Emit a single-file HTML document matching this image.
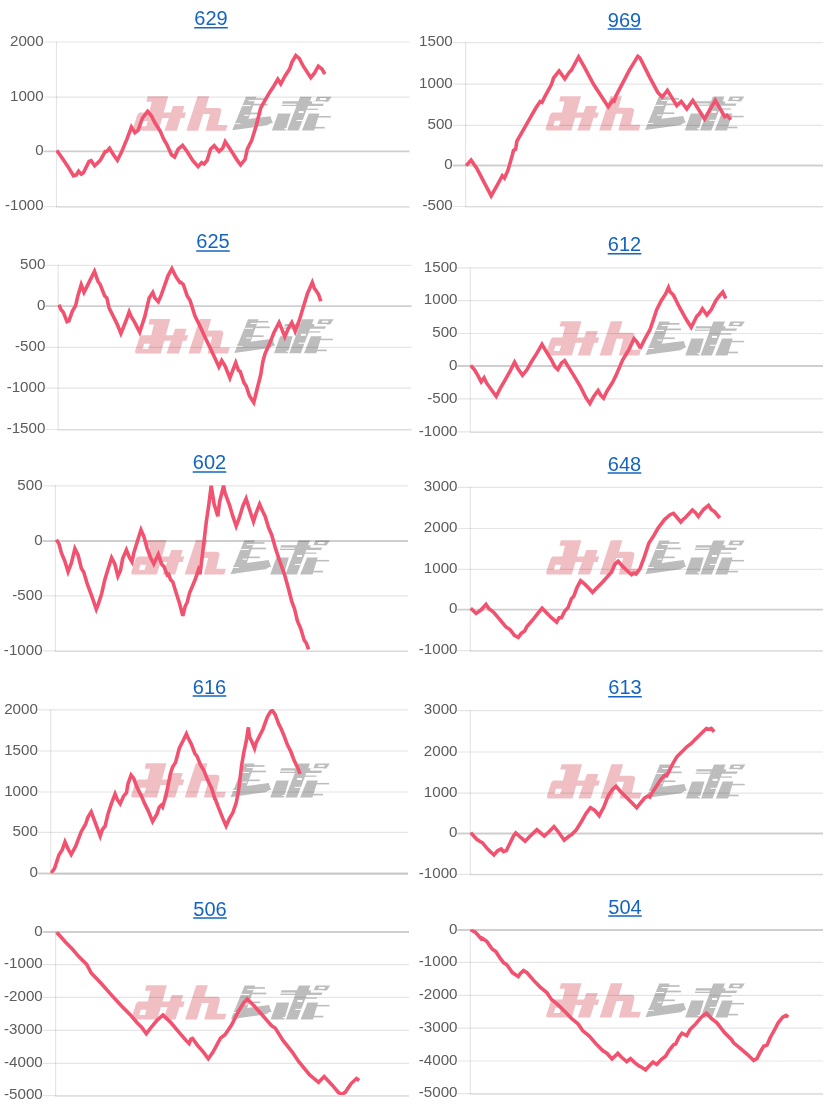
<!DOCTYPE html>
<html><head><meta charset="utf-8"><title>charts</title>
<style>
html,body{margin:0;padding:0;background:#fff;}
svg{display:block;will-change:transform;font-family:"Liberation Sans",sans-serif;}
</style></head><body>
<svg width="830" height="1110" viewBox="0 0 830 1110">
<rect width="830" height="1110" fill="#fff"/>
<defs><g id="wm"><path fill="#f0bfc3" fill-rule="evenodd" d="M15.53 -0.05 L36.06 -0.05 L31.00 18.39 L16.47 18.39 L19.65 5.37 L14.23 5.37Z"/>
<path fill="#f0bfc3" fill-rule="evenodd" d="M7.36 16.22 L53.84 16.22 L52.32 21.64 L4.47 21.64 L5.19 18.39Z"/>
<path fill="#f0bfc3" fill-rule="evenodd" d="M4.83 19.83 L30.64 19.83 L26.52 34.29 L2.08 34.29 L0.85 33.21 L1.00 31.40ZM10.03 24.53 L15.67 24.53 L14.08 29.81 L8.44 29.81Z"/>
<path fill="#f0bfc3" fill-rule="evenodd" d="M40.97 9.71 L52.32 9.71 L44.73 34.29 L32.30 34.29Z"/>
<path fill="#f0bfc3" fill-rule="evenodd" d="M65.47 -0.05 L77.03 -0.05 L73.63 11.52 L86.65 11.52 L88.67 12.46 L89.18 14.41 L85.85 28.51 L95.47 28.51 L93.87 34.29 L73.42 34.29 L77.90 17.66 L71.03 17.66 L65.97 34.29 L54.26 34.29Z"/>
<path fill="#bdbdbd" fill-rule="evenodd" d="M113.86 0.23 L124.34 0.23 L116.39 22.64 L138.29 19.75 L140.39 25.89 L135.18 28.93 L100.12 33.84Z"/>
<path fill="#bdbdbd" fill-rule="evenodd" d="M116.39 1.82 L134.10 1.82 L134.10 3.48 L116.39 3.48Z"/>
<path fill="#bdbdbd" fill-rule="evenodd" d="M119.64 7.31 L135.54 7.31 L135.54 9.05 L119.64 9.05Z"/>
<path fill="#bdbdbd" fill-rule="evenodd" d="M112.77 16.21 L129.40 16.21 L129.40 17.87 L112.77 17.87Z"/>
<path fill="#bdbdbd" fill-rule="evenodd" d="M122.53 26.83 L135.18 26.83 L135.18 28.21 L122.53 28.21Z"/>
<path fill="#bdbdbd" fill-rule="evenodd" d="M103.01 25.24 L140.60 25.24 L140.60 26.40 L103.01 26.40Z"/>
<path fill="#ffffff" fill-rule="evenodd" d="M110.24 8.69 L118.56 8.69 L118.56 9.70 L110.24 9.70Z"/>
<path fill="#ffffff" fill-rule="evenodd" d="M112.05 18.37 L116.75 18.37 L116.75 19.39 L112.05 19.39Z"/>
<path fill="#ffffff" fill-rule="evenodd" d="M102.29 26.83 L108.43 26.83 L108.43 27.70 L102.29 27.70Z"/>
<path fill="#ffffff" fill-rule="evenodd" d="M116.39 3.77 L122.89 3.77 L122.89 4.78 L116.39 4.78Z"/>
<path fill="#bdbdbd" fill-rule="evenodd" d="M168.00 0.23 L179.57 0.23 L166.56 34.21 L154.99 34.21Z"/>
<path fill="#bdbdbd" fill-rule="evenodd" d="M150.65 4.93 L192.58 4.93 L190.77 9.63 L149.57 9.63Z"/>
<path fill="#bdbdbd" fill-rule="evenodd" d="M184.99 0.23 L199.45 0.23 L196.05 5.29 L182.82 5.29ZM188.24 1.68 L194.39 1.68 L193.66 3.48 L187.37 3.48Z"/>
<path fill="#bdbdbd" fill-rule="evenodd" d="M145.95 17.22 L158.46 17.22 L153.54 34.21 L139.81 34.21Z"/>
<path fill="#bdbdbd" fill-rule="evenodd" d="M176.68 17.22 L187.37 17.22 L182.10 34.21 L169.81 34.21Z"/>
<path fill="#bdbdbd" fill-rule="evenodd" d="M174.51 12.23 L186.07 12.23 L186.07 13.46 L174.51 13.46Z"/>
<path fill="#bdbdbd" fill-rule="evenodd" d="M181.01 19.60 L198.72 19.60 L198.72 21.12 L181.01 21.12Z"/>
<path fill="#bdbdbd" fill-rule="evenodd" d="M171.62 30.45 L192.58 30.45 L192.58 32.11 L171.62 32.11Z"/>
<path fill="#bdbdbd" fill-rule="evenodd" d="M142.70 28.42 L153.54 28.42 L153.54 29.51 L142.70 29.51Z"/>
<path fill="#ffffff" fill-rule="evenodd" d="M149.93 7.24 L164.39 7.24 L164.39 8.40 L149.93 8.40Z"/>
<path fill="#ffffff" fill-rule="evenodd" d="M179.93 4.93 L192.58 4.93 L192.58 7.31 L179.93 7.31Z"/>
<path fill="#ffffff" fill-rule="evenodd" d="M166.56 14.69 L171.62 14.69 L171.62 16.64 L166.56 16.64Z"/>
<path fill="#ffffff" fill-rule="evenodd" d="M164.39 23.58 L171.62 23.58 L171.62 24.59 L164.39 24.59Z"/>
<path fill="#ffffff" fill-rule="evenodd" d="M152.10 31.68 L155.71 31.68 L155.71 32.76 L152.10 32.76Z"/></g></defs>
<use href="#wm" x="132.1" y="96.4"/>
<line x1="43.5" y1="42.0" x2="409.5" y2="42.0" stroke="rgba(0,0,0,0.1)" stroke-width="1.2"/>
<text transform="translate(43.7,45.7) scale(0.985,1)" text-anchor="end" font-size="15.4" fill="#5c5c5c">2000</text>
<line x1="43.5" y1="97.1" x2="409.5" y2="97.1" stroke="rgba(0,0,0,0.1)" stroke-width="1.2"/>
<text transform="translate(43.7,100.8) scale(0.985,1)" text-anchor="end" font-size="15.4" fill="#5c5c5c">1000</text>
<line x1="43.5" y1="151.4" x2="409.5" y2="151.4" stroke="rgba(0,0,0,0.19)" stroke-width="1.8"/>
<text transform="translate(43.7,155.1) scale(0.985,1)" text-anchor="end" font-size="15.4" fill="#5c5c5c">0</text>
<line x1="43.5" y1="206.6" x2="409.5" y2="206.6" stroke="rgba(0,0,0,0.1)" stroke-width="1.2"/>
<text transform="translate(43.7,210.3) scale(0.985,1)" text-anchor="end" font-size="15.4" fill="#5c5c5c">-1000</text>
<line x1="56.5" y1="41.5" x2="56.5" y2="207.1" stroke="rgba(0,0,0,0.1)" stroke-width="1.2"/>
<line x1="56.5" y1="207.2" x2="409.5" y2="207.2" stroke="rgba(0,0,0,0.1)" stroke-width="1.0"/>
<clipPath id="c0"><rect x="56.0" y="41.3" width="354.0" height="164.7"/></clipPath>
<polyline clip-path="url(#c0)" fill="none" stroke="#f1526f" stroke-width="3.6" stroke-linejoin="miter" stroke-miterlimit="4.0" points="56.7,150.4 62.3,158.2 67.8,166.4 73.5,175.8 76.3,174.9 78.6,171.3 81.3,174.2 83.4,172.7 89.0,161.5 91.1,160.7 94.7,165.8 96.8,163.7 100.2,160.4 105.2,151.5 106.7,151.5 109.5,148.3 113.5,154.8 117.4,160.2 121.3,152.6 126.9,139.2 131.4,127.1 134.9,132.7 138.0,130.3 142.5,118.0 147.6,111.3 151.4,115.8 154.8,122.5 160.3,131.4 163.7,139.2 167.0,144.8 171.5,154.8 174.6,157.1 178.2,149.2 182.6,145.4 187.1,151.5 192.7,160.4 198.1,166.6 201.7,162.6 204.2,164.0 207.1,160.4 210.5,149.2 214.2,145.6 219.0,151.4 222.7,148.1 225.2,141.6 231.7,151.5 237.3,160.4 240.6,164.8 245.1,159.3 247.3,149.2 251.7,140.3 256.2,125.8 260.7,108.0 265.1,100.2 269.6,92.4 274.0,85.7 277.8,79.2 280.8,84.0 285.2,75.7 289.6,69.0 291.9,62.3 295.8,55.5 299.2,58.3 303.0,65.7 310.8,77.7 314.2,73.5 318.3,66.1 322.0,69.0 324.9,74.1"/>
<text x="211.0" y="25.3" text-anchor="middle" font-size="20" fill="#1565c0">629</text>
<line x1="194.2" y1="27.8" x2="227.8" y2="27.8" stroke="#1565c0" stroke-width="1.5"/>
<use href="#wm" x="544.9" y="96.2"/>
<line x1="452.6" y1="42.7" x2="823.0" y2="42.7" stroke="rgba(0,0,0,0.1)" stroke-width="1.2"/>
<text transform="translate(452.8,46.4) scale(0.985,1)" text-anchor="end" font-size="15.4" fill="#5c5c5c">1500</text>
<line x1="452.6" y1="84.2" x2="823.0" y2="84.2" stroke="rgba(0,0,0,0.1)" stroke-width="1.2"/>
<text transform="translate(452.8,87.9) scale(0.985,1)" text-anchor="end" font-size="15.4" fill="#5c5c5c">1000</text>
<line x1="452.6" y1="125.4" x2="823.0" y2="125.4" stroke="rgba(0,0,0,0.1)" stroke-width="1.2"/>
<text transform="translate(452.8,129.1) scale(0.985,1)" text-anchor="end" font-size="15.4" fill="#5c5c5c">500</text>
<line x1="452.6" y1="165.5" x2="823.0" y2="165.5" stroke="rgba(0,0,0,0.19)" stroke-width="1.8"/>
<text transform="translate(452.8,169.2) scale(0.985,1)" text-anchor="end" font-size="15.4" fill="#5c5c5c">0</text>
<line x1="452.6" y1="206.5" x2="823.0" y2="206.5" stroke="rgba(0,0,0,0.1)" stroke-width="1.2"/>
<text transform="translate(452.8,210.2) scale(0.985,1)" text-anchor="end" font-size="15.4" fill="#5c5c5c">-500</text>
<line x1="465.6" y1="42.2" x2="465.6" y2="207.0" stroke="rgba(0,0,0,0.1)" stroke-width="1.2"/>
<line x1="465.6" y1="207.1" x2="823.0" y2="207.1" stroke="rgba(0,0,0,0.1)" stroke-width="1.0"/>
<clipPath id="c1"><rect x="465.1" y="42.0" width="358.4" height="163.9"/></clipPath>
<polyline clip-path="url(#c1)" fill="none" stroke="#f1526f" stroke-width="3.6" stroke-linejoin="miter" stroke-miterlimit="4.0" points="466.2,165.5 471.1,160.2 476.7,168.2 491.2,195.9 496.8,186.0 502.3,175.7 504.5,178.0 507.9,170.4 512.4,154.8 513.5,150.4 515.7,149.2 516.8,141.4 526.9,123.6 535.8,108.0 540.2,101.5 542.0,102.3 544.7,96.9 551.4,84.6 553.6,77.9 559.1,71.0 564.8,78.9 569.2,72.3 571.4,70.1 578.6,56.9 584.8,67.9 593.7,84.6 608.2,106.7 612.7,100.4 614.1,101.1 616.0,95.8 629.4,70.1 637.8,56.3 640.0,57.9 650.0,77.9 657.8,92.4 662.2,97.0 667.4,90.4 676.8,105.6 681.2,101.5 686.8,108.9 692.8,100.4 704.6,119.0 715.3,100.4 724.7,116.7 727.0,115.3 730.9,119.6"/>
<text x="624.5" y="26.6" text-anchor="middle" font-size="20" fill="#1565c0">969</text>
<line x1="607.7" y1="29.1" x2="641.3" y2="29.1" stroke="#1565c0" stroke-width="1.5"/>
<use href="#wm" x="134.2" y="319.1"/>
<line x1="45.2" y1="265.3" x2="411.6" y2="265.3" stroke="rgba(0,0,0,0.1)" stroke-width="1.2"/>
<text transform="translate(45.4,269.0) scale(0.985,1)" text-anchor="end" font-size="15.4" fill="#5c5c5c">500</text>
<line x1="45.2" y1="306.2" x2="411.6" y2="306.2" stroke="rgba(0,0,0,0.19)" stroke-width="1.8"/>
<text transform="translate(45.4,309.9) scale(0.985,1)" text-anchor="end" font-size="15.4" fill="#5c5c5c">0</text>
<line x1="45.2" y1="347.3" x2="411.6" y2="347.3" stroke="rgba(0,0,0,0.1)" stroke-width="1.2"/>
<text transform="translate(45.4,351.0) scale(0.985,1)" text-anchor="end" font-size="15.4" fill="#5c5c5c">-500</text>
<line x1="45.2" y1="388.1" x2="411.6" y2="388.1" stroke="rgba(0,0,0,0.1)" stroke-width="1.2"/>
<text transform="translate(45.4,391.8) scale(0.985,1)" text-anchor="end" font-size="15.4" fill="#5c5c5c">-1000</text>
<line x1="45.2" y1="429.5" x2="411.6" y2="429.5" stroke="rgba(0,0,0,0.1)" stroke-width="1.2"/>
<text transform="translate(45.4,433.2) scale(0.985,1)" text-anchor="end" font-size="15.4" fill="#5c5c5c">-1500</text>
<line x1="58.2" y1="264.8" x2="58.2" y2="430.0" stroke="rgba(0,0,0,0.1)" stroke-width="1.2"/>
<line x1="58.2" y1="430.1" x2="411.6" y2="430.1" stroke="rgba(0,0,0,0.1)" stroke-width="1.0"/>
<clipPath id="c2"><rect x="57.7" y="264.6" width="354.4" height="164.3"/></clipPath>
<polyline clip-path="url(#c2)" fill="none" stroke="#f1526f" stroke-width="3.6" stroke-linejoin="miter" stroke-miterlimit="4.0" points="58.9,304.6 61.1,309.7 63.4,312.4 67.0,321.7 68.9,320.9 72.3,311.3 75.6,305.7 77.9,295.7 81.2,284.7 84.0,292.2 86.8,286.8 90.1,280.1 94.5,271.4 97.9,281.2 100.2,284.5 104.6,295.7 106.8,297.9 109.1,308.0 116.9,323.6 120.9,333.4 125.8,321.3 129.2,311.9 131.4,316.9 134.7,322.4 139.7,332.3 142.5,323.6 144.7,316.9 149.2,297.9 152.8,292.5 154.8,297.9 158.3,301.8 161.4,294.6 168.1,275.6 171.9,268.7 175.9,276.7 179.9,282.6 180.9,282.4 183.3,284.5 187.1,295.7 190.0,300.2 194.9,315.8 199.3,324.7 206.0,339.2 214.9,358.1 218.9,366.8 221.7,360.5 225.0,365.9 229.9,378.0 235.7,362.7 238.4,370.4 240.2,371.5 243.9,382.6 246.2,386.0 249.5,396.0 253.8,402.5 257.3,388.2 260.7,374.8 262.9,361.4 265.1,353.6 269.6,343.6 274.0,332.5 279.1,322.6 281.8,329.1 284.8,336.7 288.5,328.0 291.8,322.6 295.2,331.2 299.7,319.1 303.0,308.0 307.5,293.5 312.3,282.5 314.2,287.9 318.6,294.6 320.8,301.3"/>
<text x="213.0" y="248.4" text-anchor="middle" font-size="20" fill="#1565c0">625</text>
<line x1="196.2" y1="250.9" x2="229.8" y2="250.9" stroke="#1565c0" stroke-width="1.5"/>
<use href="#wm" x="545.4" y="321.2"/>
<line x1="457.3" y1="267.9" x2="823.0" y2="267.9" stroke="rgba(0,0,0,0.1)" stroke-width="1.2"/>
<text transform="translate(457.5,271.6) scale(0.985,1)" text-anchor="end" font-size="15.4" fill="#5c5c5c">1500</text>
<line x1="457.3" y1="300.7" x2="823.0" y2="300.7" stroke="rgba(0,0,0,0.1)" stroke-width="1.2"/>
<text transform="translate(457.5,304.4) scale(0.985,1)" text-anchor="end" font-size="15.4" fill="#5c5c5c">1000</text>
<line x1="457.3" y1="333.5" x2="823.0" y2="333.5" stroke="rgba(0,0,0,0.1)" stroke-width="1.2"/>
<text transform="translate(457.5,337.2) scale(0.985,1)" text-anchor="end" font-size="15.4" fill="#5c5c5c">500</text>
<line x1="457.3" y1="366.0" x2="823.0" y2="366.0" stroke="rgba(0,0,0,0.19)" stroke-width="1.8"/>
<text transform="translate(457.5,369.7) scale(0.985,1)" text-anchor="end" font-size="15.4" fill="#5c5c5c">0</text>
<line x1="457.3" y1="398.8" x2="823.0" y2="398.8" stroke="rgba(0,0,0,0.1)" stroke-width="1.2"/>
<text transform="translate(457.5,402.5) scale(0.985,1)" text-anchor="end" font-size="15.4" fill="#5c5c5c">-500</text>
<line x1="457.3" y1="431.8" x2="823.0" y2="431.8" stroke="rgba(0,0,0,0.1)" stroke-width="1.2"/>
<text transform="translate(457.5,435.5) scale(0.985,1)" text-anchor="end" font-size="15.4" fill="#5c5c5c">-1000</text>
<line x1="470.3" y1="267.4" x2="470.3" y2="432.3" stroke="rgba(0,0,0,0.1)" stroke-width="1.2"/>
<line x1="470.3" y1="432.4" x2="823.0" y2="432.4" stroke="rgba(0,0,0,0.1)" stroke-width="1.0"/>
<clipPath id="c3"><rect x="469.8" y="267.2" width="353.7" height="164.0"/></clipPath>
<polyline clip-path="url(#c3)" fill="none" stroke="#f1526f" stroke-width="3.6" stroke-linejoin="miter" stroke-miterlimit="4.0" points="470.7,365.3 474.5,369.8 477.8,375.4 481.2,381.9 484.1,377.8 486.7,383.2 492.3,391.0 496.2,396.4 500.1,388.7 504.6,380.9 510.2,370.9 514.6,362.2 518.0,368.7 522.5,375.3 526.9,369.8 531.3,362.0 536.9,353.1 542.0,344.3 545.8,350.8 551.4,359.8 554.7,366.4 557.9,369.6 561.4,363.1 564.6,360.6 568.1,366.4 573.7,375.4 580.4,386.5 585.9,397.7 589.9,403.5 593.7,396.5 598.1,390.5 600.9,395.4 603.6,398.1 607.1,391.0 612.7,382.0 616.0,375.4 622.7,359.8 626.1,354.2 629.4,348.6 634.0,338.8 636.8,341.9 640.1,347.5 640.0,348.6 645.6,337.5 650.0,329.7 653.4,319.6 656.7,309.6 661.2,300.7 665.6,294.0 668.5,287.5 670.1,291.8 673.4,295.1 680.1,308.5 685.7,318.5 691.2,327.3 696.8,316.3 699.1,314.1 702.4,308.7 706.9,315.0 711.3,309.6 715.8,300.7 719.1,296.2 722.8,292.0 725.8,298.5"/>
<text x="624.5" y="251.3" text-anchor="middle" font-size="20" fill="#1565c0">612</text>
<line x1="607.7" y1="253.8" x2="641.3" y2="253.8" stroke="#1565c0" stroke-width="1.5"/>
<use href="#wm" x="130.4" y="540.3"/>
<line x1="42.4" y1="485.8" x2="408.0" y2="485.8" stroke="rgba(0,0,0,0.1)" stroke-width="1.2"/>
<text transform="translate(42.6,489.5) scale(0.985,1)" text-anchor="end" font-size="15.4" fill="#5c5c5c">500</text>
<line x1="42.4" y1="541.0" x2="408.0" y2="541.0" stroke="rgba(0,0,0,0.19)" stroke-width="1.8"/>
<text transform="translate(42.6,544.7) scale(0.985,1)" text-anchor="end" font-size="15.4" fill="#5c5c5c">0</text>
<line x1="42.4" y1="595.8" x2="408.0" y2="595.8" stroke="rgba(0,0,0,0.1)" stroke-width="1.2"/>
<text transform="translate(42.6,599.5) scale(0.985,1)" text-anchor="end" font-size="15.4" fill="#5c5c5c">-500</text>
<line x1="42.4" y1="650.9" x2="408.0" y2="650.9" stroke="rgba(0,0,0,0.1)" stroke-width="1.2"/>
<text transform="translate(42.6,654.6) scale(0.985,1)" text-anchor="end" font-size="15.4" fill="#5c5c5c">-1000</text>
<line x1="55.4" y1="485.3" x2="55.4" y2="651.4" stroke="rgba(0,0,0,0.1)" stroke-width="1.2"/>
<line x1="55.4" y1="651.5" x2="408.0" y2="651.5" stroke="rgba(0,0,0,0.1)" stroke-width="1.0"/>
<clipPath id="c4"><rect x="54.9" y="485.1" width="353.6" height="165.2"/></clipPath>
<polyline clip-path="url(#c4)" fill="none" stroke="#f1526f" stroke-width="3.6" stroke-linejoin="miter" stroke-miterlimit="4.0" points="56.5,539.6 59.1,544.1 61.4,553.0 64.7,560.8 68.1,571.8 71.4,563.0 74.9,548.7 78.1,555.2 81.4,568.6 83.7,572.0 87.0,583.1 91.5,595.4 96.3,609.2 98.2,604.3 101.5,594.2 104.8,579.8 108.2,568.6 111.6,557.7 114.9,564.2 117.9,576.2 120.4,570.8 122.7,558.6 126.4,549.9 129.4,557.5 132.0,561.8 133.8,553.0 137.2,541.9 141.0,529.8 143.8,536.3 147.2,548.6 150.5,557.5 153.8,564.0 158.3,554.3 161.7,564.2 163.9,566.4 167.3,575.1 168.7,574.4 170.6,579.8 172.8,582.0 177.3,596.5 179.5,603.2 182.8,615.9 185.1,606.5 187.3,602.0 189.5,593.1 195.1,579.8 198.4,569.9 200.0,574.2 202.9,550.8 206.3,521.8 208.9,504.0 211.2,485.7 214.1,504.0 217.8,516.2 219.6,501.7 223.6,485.7 225.0,492.8 229.5,505.1 232.8,516.2 236.2,526.1 239.5,517.3 242.8,506.2 246.1,498.6 249.5,509.5 253.5,521.6 256.2,512.9 259.6,504.2 262.9,511.8 265.1,516.2 268.5,527.4 271.8,535.2 275.2,547.4 279.6,560.8 284.1,573.1 288.5,588.7 291.9,602.0 294.5,608.7 297.4,621.0 300.8,628.8 304.1,639.9 306.4,643.3 308.6,649.3"/>
<text x="209.5" y="469.4" text-anchor="middle" font-size="20" fill="#1565c0">602</text>
<line x1="192.7" y1="471.9" x2="226.3" y2="471.9" stroke="#1565c0" stroke-width="1.5"/>
<use href="#wm" x="545.3" y="540.3"/>
<line x1="457.3" y1="487.3" x2="823.0" y2="487.3" stroke="rgba(0,0,0,0.1)" stroke-width="1.2"/>
<text transform="translate(457.5,491.0) scale(0.985,1)" text-anchor="end" font-size="15.4" fill="#5c5c5c">3000</text>
<line x1="457.3" y1="528.5" x2="823.0" y2="528.5" stroke="rgba(0,0,0,0.1)" stroke-width="1.2"/>
<text transform="translate(457.5,532.2) scale(0.985,1)" text-anchor="end" font-size="15.4" fill="#5c5c5c">2000</text>
<line x1="457.3" y1="569.3" x2="823.0" y2="569.3" stroke="rgba(0,0,0,0.1)" stroke-width="1.2"/>
<text transform="translate(457.5,573.0) scale(0.985,1)" text-anchor="end" font-size="15.4" fill="#5c5c5c">1000</text>
<line x1="457.3" y1="609.6" x2="823.0" y2="609.6" stroke="rgba(0,0,0,0.19)" stroke-width="1.8"/>
<text transform="translate(457.5,613.3) scale(0.985,1)" text-anchor="end" font-size="15.4" fill="#5c5c5c">0</text>
<line x1="457.3" y1="650.7" x2="823.0" y2="650.7" stroke="rgba(0,0,0,0.1)" stroke-width="1.2"/>
<text transform="translate(457.5,654.4) scale(0.985,1)" text-anchor="end" font-size="15.4" fill="#5c5c5c">-1000</text>
<line x1="470.3" y1="486.8" x2="470.3" y2="651.2" stroke="rgba(0,0,0,0.1)" stroke-width="1.2"/>
<line x1="470.3" y1="651.3" x2="823.0" y2="651.3" stroke="rgba(0,0,0,0.1)" stroke-width="1.0"/>
<clipPath id="c5"><rect x="469.8" y="486.6" width="353.7" height="163.5"/></clipPath>
<polyline clip-path="url(#c5)" fill="none" stroke="#f1526f" stroke-width="3.6" stroke-linejoin="miter" stroke-miterlimit="4.0" points="470.7,608.3 476.1,613.5 481.2,609.8 486.0,604.4 489.0,608.7 493.4,612.1 500.1,619.9 505.7,626.6 510.2,629.9 514.6,635.5 518.3,637.4 521.3,633.3 524.6,631.0 526.9,626.6 533.6,618.8 538.0,613.2 542.1,608.3 545.8,612.1 551.4,617.7 556.7,622.2 559.2,617.7 561.4,617.7 564.8,611.0 568.1,607.6 571.4,598.7 573.7,596.5 577.0,587.6 580.6,580.8 584.8,584.2 589.3,588.7 592.6,592.3 596.0,588.7 602.7,582.0 611.6,572.0 614.9,564.2 618.2,561.3 622.7,566.4 627.2,570.8 631.6,574.7 633.9,573.0 636.0,574.0 638.3,570.8 640.0,568.6 644.5,556.4 648.9,543.0 653.4,536.3 657.8,528.5 664.5,519.6 670.1,514.7 673.4,513.4 676.8,517.3 680.8,522.0 683.5,519.1 685.7,517.3 692.4,510.0 695.7,512.9 698.4,516.5 703.5,509.5 708.5,505.3 711.3,509.5 714.7,511.8 719.8,518.0"/>
<text x="624.5" y="470.6" text-anchor="middle" font-size="20" fill="#1565c0">648</text>
<line x1="607.7" y1="473.1" x2="641.3" y2="473.1" stroke="#1565c0" stroke-width="1.5"/>
<use href="#wm" x="130.4" y="763.3"/>
<line x1="37.7" y1="709.8" x2="408.0" y2="709.8" stroke="rgba(0,0,0,0.1)" stroke-width="1.2"/>
<text transform="translate(37.9,713.5) scale(0.985,1)" text-anchor="end" font-size="15.4" fill="#5c5c5c">2000</text>
<line x1="37.7" y1="751.0" x2="408.0" y2="751.0" stroke="rgba(0,0,0,0.1)" stroke-width="1.2"/>
<text transform="translate(37.9,754.7) scale(0.985,1)" text-anchor="end" font-size="15.4" fill="#5c5c5c">1500</text>
<line x1="37.7" y1="792.0" x2="408.0" y2="792.0" stroke="rgba(0,0,0,0.1)" stroke-width="1.2"/>
<text transform="translate(37.9,795.7) scale(0.985,1)" text-anchor="end" font-size="15.4" fill="#5c5c5c">1000</text>
<line x1="37.7" y1="832.4" x2="408.0" y2="832.4" stroke="rgba(0,0,0,0.1)" stroke-width="1.2"/>
<text transform="translate(37.9,836.1) scale(0.985,1)" text-anchor="end" font-size="15.4" fill="#5c5c5c">500</text>
<line x1="37.7" y1="873.5" x2="408.0" y2="873.5" stroke="rgba(0,0,0,0.19)" stroke-width="1.8"/>
<text transform="translate(37.9,877.2) scale(0.985,1)" text-anchor="end" font-size="15.4" fill="#5c5c5c">0</text>
<line x1="50.7" y1="709.3" x2="50.7" y2="874.0" stroke="rgba(0,0,0,0.1)" stroke-width="1.2"/>
<line x1="50.7" y1="874.1" x2="408.0" y2="874.1" stroke="rgba(0,0,0,0.1)" stroke-width="1.0"/>
<clipPath id="c6"><rect x="50.2" y="709.1" width="358.3" height="163.8"/></clipPath>
<polyline clip-path="url(#c6)" fill="none" stroke="#f1526f" stroke-width="3.6" stroke-linejoin="miter" stroke-miterlimit="4.0" points="51.1,873.0 54.5,868.5 58.9,855.1 62.3,849.6 65.0,841.9 67.9,848.5 71.2,854.5 75.7,846.2 81.2,831.7 85.7,823.9 87.9,817.2 91.2,811.9 95.7,823.9 100.2,836.0 102.4,829.5 105.1,826.2 108.0,813.9 111.3,803.9 115.1,794.0 117.3,799.4 120.2,803.7 123.6,796.1 126.5,792.7 128.0,783.8 131.1,775.1 133.6,778.2 137.0,787.2 141.4,796.1 144.8,803.9 148.1,810.6 152.6,821.5 157.0,813.9 159.2,807.2 161.3,805.2 162.6,807.0 165.9,796.1 170.4,773.8 172.6,767.1 175.5,762.6 179.3,748.2 182.7,741.5 186.4,733.8 188.2,738.1 191.6,744.8 194.9,753.7 197.1,756.4 200.5,764.9 203.8,770.4 208.3,781.6 211.6,788.3 215.0,799.4 215.0,798.3 218.3,807.2 222.8,818.4 226.1,826.0 229.5,818.4 232.8,812.8 236.2,802.8 238.4,791.6 241.7,764.9 244.0,751.5 246.2,741.5 248.4,727.4 249.5,737.0 251.8,741.5 254.6,748.4 256.2,742.6 259.6,735.9 262.9,729.2 267.4,716.9 270.7,711.4 272.4,710.6 275.2,714.7 278.5,723.6 280.8,728.1 284.1,735.9 287.4,744.8 290.8,751.5 294.1,760.4 297.9,768.2 300.1,773.8"/>
<text x="209.5" y="693.6" text-anchor="middle" font-size="20" fill="#1565c0">616</text>
<line x1="192.7" y1="696.1" x2="226.3" y2="696.1" stroke="#1565c0" stroke-width="1.5"/>
<use href="#wm" x="546.0" y="764.2"/>
<line x1="457.3" y1="710.7" x2="823.0" y2="710.7" stroke="rgba(0,0,0,0.1)" stroke-width="1.2"/>
<text transform="translate(457.5,714.4) scale(0.985,1)" text-anchor="end" font-size="15.4" fill="#5c5c5c">3000</text>
<line x1="457.3" y1="752.0" x2="823.0" y2="752.0" stroke="rgba(0,0,0,0.1)" stroke-width="1.2"/>
<text transform="translate(457.5,755.7) scale(0.985,1)" text-anchor="end" font-size="15.4" fill="#5c5c5c">2000</text>
<line x1="457.3" y1="793.2" x2="823.0" y2="793.2" stroke="rgba(0,0,0,0.1)" stroke-width="1.2"/>
<text transform="translate(457.5,796.9) scale(0.985,1)" text-anchor="end" font-size="15.4" fill="#5c5c5c">1000</text>
<line x1="457.3" y1="833.5" x2="823.0" y2="833.5" stroke="rgba(0,0,0,0.19)" stroke-width="1.8"/>
<text transform="translate(457.5,837.2) scale(0.985,1)" text-anchor="end" font-size="15.4" fill="#5c5c5c">0</text>
<line x1="457.3" y1="874.3" x2="823.0" y2="874.3" stroke="rgba(0,0,0,0.1)" stroke-width="1.2"/>
<text transform="translate(457.5,878.0) scale(0.985,1)" text-anchor="end" font-size="15.4" fill="#5c5c5c">-1000</text>
<line x1="470.3" y1="710.2" x2="470.3" y2="874.8" stroke="rgba(0,0,0,0.1)" stroke-width="1.2"/>
<line x1="470.3" y1="874.9" x2="823.0" y2="874.9" stroke="rgba(0,0,0,0.1)" stroke-width="1.0"/>
<clipPath id="c7"><rect x="469.8" y="710.0" width="353.7" height="163.7"/></clipPath>
<polyline clip-path="url(#c7)" fill="none" stroke="#f1526f" stroke-width="3.6" stroke-linejoin="miter" stroke-miterlimit="4.0" points="470.7,832.6 476.7,839.3 480.1,841.5 482.3,842.7 487.9,849.3 493.9,855.0 497.9,850.5 501.2,849.0 503.5,851.6 506.4,850.5 510.2,842.7 513.5,836.0 515.8,832.9 519.1,836.0 525.1,841.2 530.2,836.0 536.9,829.6 544.3,836.1 549.2,831.5 554.0,826.6 558.1,831.5 564.2,840.2 569.2,836.0 571.4,834.8 575.9,830.4 581.5,821.5 585.9,813.7 590.4,807.7 594.8,810.3 599.2,815.7 603.8,807.0 608.2,795.8 612.7,789.2 616.0,786.3 620.5,791.4 626.1,797.0 631.6,802.5 636.7,807.8 640.0,803.6 644.5,798.1 647.8,796.0 649.8,797.0 652.3,792.5 656.7,785.8 661.2,779.1 664.6,775.2 666.5,775.8 669.0,771.3 672.3,764.6 676.8,756.8 681.2,752.4 686.8,746.8 691.3,743.5 694.6,740.1 700.2,734.5 706.4,728.5 709.1,729.4 711.3,728.5 714.2,731.7"/>
<text x="625.0" y="694.3" text-anchor="middle" font-size="20" fill="#1565c0">613</text>
<line x1="608.2" y1="696.8" x2="641.8" y2="696.8" stroke="#1565c0" stroke-width="1.5"/>
<use href="#wm" x="130.8" y="985.3"/>
<line x1="42.6" y1="932.0" x2="409.0" y2="932.0" stroke="rgba(0,0,0,0.19)" stroke-width="1.8"/>
<text transform="translate(42.8,935.7) scale(0.985,1)" text-anchor="end" font-size="15.4" fill="#5c5c5c">0</text>
<line x1="42.6" y1="964.6" x2="409.0" y2="964.6" stroke="rgba(0,0,0,0.1)" stroke-width="1.2"/>
<text transform="translate(42.8,968.3) scale(0.985,1)" text-anchor="end" font-size="15.4" fill="#5c5c5c">-1000</text>
<line x1="42.6" y1="997.4" x2="409.0" y2="997.4" stroke="rgba(0,0,0,0.1)" stroke-width="1.2"/>
<text transform="translate(42.8,1001.1) scale(0.985,1)" text-anchor="end" font-size="15.4" fill="#5c5c5c">-2000</text>
<line x1="42.6" y1="1030.3" x2="409.0" y2="1030.3" stroke="rgba(0,0,0,0.1)" stroke-width="1.2"/>
<text transform="translate(42.8,1034.0) scale(0.985,1)" text-anchor="end" font-size="15.4" fill="#5c5c5c">-3000</text>
<line x1="42.6" y1="1063.3" x2="409.0" y2="1063.3" stroke="rgba(0,0,0,0.1)" stroke-width="1.2"/>
<text transform="translate(42.8,1067.0) scale(0.985,1)" text-anchor="end" font-size="15.4" fill="#5c5c5c">-4000</text>
<line x1="42.6" y1="1095.7" x2="409.0" y2="1095.7" stroke="rgba(0,0,0,0.1)" stroke-width="1.2"/>
<text transform="translate(42.8,1099.4) scale(0.985,1)" text-anchor="end" font-size="15.4" fill="#5c5c5c">-5000</text>
<line x1="55.6" y1="931.5" x2="55.6" y2="1096.2" stroke="rgba(0,0,0,0.1)" stroke-width="1.2"/>
<line x1="55.6" y1="1096.3" x2="409.0" y2="1096.3" stroke="rgba(0,0,0,0.1)" stroke-width="1.0"/>
<clipPath id="c8"><rect x="55.1" y="931.3" width="354.4" height="163.8"/></clipPath>
<polyline clip-path="url(#c8)" fill="none" stroke="#f1526f" stroke-width="3.6" stroke-linejoin="miter" stroke-miterlimit="4.0" points="56.7,932.3 65.6,942.3 72.3,949.0 79.0,956.8 86.8,964.6 91.2,973.0 101.3,983.5 110.2,993.6 121.3,1005.8 130.2,1014.7 136.9,1022.5 141.4,1027.0 146.3,1033.7 151.4,1027.0 157.0,1020.3 163.0,1015.0 170.4,1022.1 179.3,1032.6 186.0,1040.4 189.1,1043.5 190.9,1039.2 192.6,1038.4 197.1,1044.8 203.8,1052.6 208.3,1058.7 212.7,1052.6 220.5,1038.1 225.0,1034.8 231.7,1024.8 238.4,1011.4 243.9,1002.5 247.3,999.0 254.0,1005.8 262.9,1015.8 271.8,1025.9 275.2,1028.1 283.0,1040.4 291.9,1051.5 298.6,1061.5 309.7,1074.9 318.6,1082.3 324.2,1076.6 332.0,1084.9 338.7,1092.7 342.0,1094.3 345.4,1092.1 350.9,1083.8 356.5,1078.5 359.2,1080.5"/>
<text x="210.0" y="915.6" text-anchor="middle" font-size="20" fill="#1565c0">506</text>
<line x1="193.2" y1="918.1" x2="226.8" y2="918.1" stroke="#1565c0" stroke-width="1.5"/>
<use href="#wm" x="545.4" y="983.3"/>
<line x1="457.3" y1="930.0" x2="823.0" y2="930.0" stroke="rgba(0,0,0,0.19)" stroke-width="1.8"/>
<text transform="translate(457.5,933.7) scale(0.985,1)" text-anchor="end" font-size="15.4" fill="#5c5c5c">0</text>
<line x1="457.3" y1="962.3" x2="823.0" y2="962.3" stroke="rgba(0,0,0,0.1)" stroke-width="1.2"/>
<text transform="translate(457.5,966.0) scale(0.985,1)" text-anchor="end" font-size="15.4" fill="#5c5c5c">-1000</text>
<line x1="457.3" y1="995.3" x2="823.0" y2="995.3" stroke="rgba(0,0,0,0.1)" stroke-width="1.2"/>
<text transform="translate(457.5,999.0) scale(0.985,1)" text-anchor="end" font-size="15.4" fill="#5c5c5c">-2000</text>
<line x1="457.3" y1="1028.1" x2="823.0" y2="1028.1" stroke="rgba(0,0,0,0.1)" stroke-width="1.2"/>
<text transform="translate(457.5,1031.8) scale(0.985,1)" text-anchor="end" font-size="15.4" fill="#5c5c5c">-3000</text>
<line x1="457.3" y1="1061.0" x2="823.0" y2="1061.0" stroke="rgba(0,0,0,0.1)" stroke-width="1.2"/>
<text transform="translate(457.5,1064.7) scale(0.985,1)" text-anchor="end" font-size="15.4" fill="#5c5c5c">-4000</text>
<line x1="457.3" y1="1093.7" x2="823.0" y2="1093.7" stroke="rgba(0,0,0,0.1)" stroke-width="1.2"/>
<text transform="translate(457.5,1097.4) scale(0.985,1)" text-anchor="end" font-size="15.4" fill="#5c5c5c">-5000</text>
<line x1="470.3" y1="929.5" x2="470.3" y2="1094.2" stroke="rgba(0,0,0,0.1)" stroke-width="1.2"/>
<line x1="470.3" y1="1094.3" x2="823.0" y2="1094.3" stroke="rgba(0,0,0,0.1)" stroke-width="1.0"/>
<clipPath id="c9"><rect x="469.8" y="929.3" width="353.7" height="163.8"/></clipPath>
<polyline clip-path="url(#c9)" fill="none" stroke="#f1526f" stroke-width="3.6" stroke-linejoin="miter" stroke-miterlimit="4.0" points="470.7,929.6 475.6,932.5 481.2,938.7 482.3,938.2 486.7,941.4 492.3,949.2 495.7,951.4 500.1,958.1 503.5,962.6 506.8,964.8 512.4,972.6 518.3,976.5 520.2,973.7 523.5,970.5 526.9,972.6 533.6,980.4 540.2,987.1 546.9,992.7 551.4,999.4 558.1,1004.9 564.8,1011.6 571.4,1018.3 578.1,1023.9 582.6,1030.6 589.3,1036.1 596.0,1043.9 602.7,1050.6 607.1,1053.5 612.0,1058.9 614.9,1056.2 617.8,1053.4 621.6,1057.3 626.7,1061.6 630.5,1058.7 635.0,1062.9 639.4,1066.2 640.0,1066.2 645.6,1069.8 650.0,1065.1 653.0,1062.0 656.7,1064.4 661.2,1059.5 665.6,1056.2 669.0,1050.6 673.4,1045.0 675.7,1043.9 679.0,1037.2 682.0,1033.2 686.7,1035.6 690.2,1029.4 695.7,1023.9 701.3,1017.2 706.4,1013.1 711.3,1018.3 716.9,1022.8 724.7,1032.8 731.4,1039.5 733.6,1042.8 740.3,1048.4 747.0,1054.0 753.7,1060.5 757.0,1058.4 760.4,1051.7 763.7,1046.2 767.0,1045.0 770.4,1037.2 774.8,1029.4 778.2,1022.8 782.7,1017.2 786.0,1015.4 788.2,1017.2"/>
<text x="625.0" y="913.6" text-anchor="middle" font-size="20" fill="#1565c0">504</text>
<line x1="608.2" y1="916.1" x2="641.8" y2="916.1" stroke="#1565c0" stroke-width="1.5"/>
</svg>
</body></html>
